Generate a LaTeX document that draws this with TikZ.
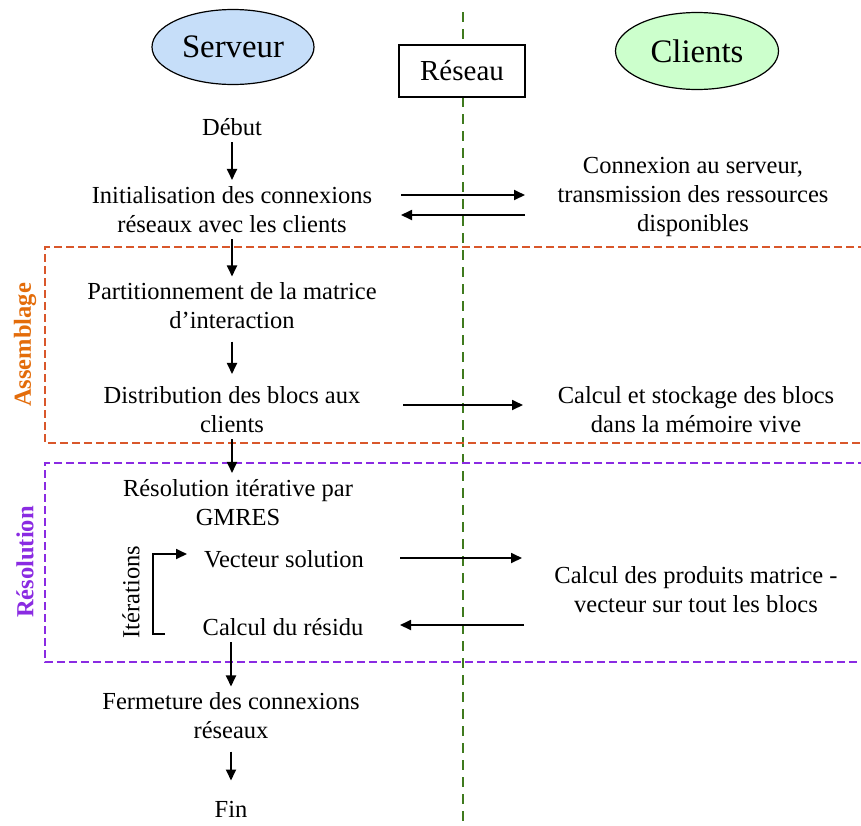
\documentclass[tikz,border=0pt]{standalone}
\usepackage{fontspec}
\setmainfont{Liberation Serif}
\usetikzlibrary{arrows.meta,shapes.geometric}
\definecolor{servfill}{HTML}{C6DEF9}
\definecolor{clifill}{HTML}{CCFFCC}
\definecolor{netgreen}{HTML}{3F7A1E}
\definecolor{asmorange}{HTML}{E36C0A}
\definecolor{asmline}{HTML}{D9572B}
\definecolor{respurple}{HTML}{8A2BE2}
\begin{document}
\begin{tikzpicture}[x=0.5pt,y=-0.5pt,
    every node/.style={font=\fontsize{12.25}{14.5}\selectfont, align=center, inner sep=3pt},
    actor/.style={ellipse, draw, line width=0.6pt, font=\fontsize{16.4}{19}\selectfont},
    flow/.style={line width=0.9pt, -{Triangle[length=5.5pt,width=5pt]}},
    phase/.style={line width=0.6pt, dash pattern=on 4pt off 2pt}]
    \useasboundingbox (0,0) rectangle (861,825);
    % network line
    \coordinate (nettop) at (463,12);
    \coordinate (netbot) at (463,830);
    \draw[netgreen, line width=0.7pt, dash pattern=on 5pt off 3.5pt] (nettop) -- (netbot);
    % headers
    \node[actor, fill=servfill, minimum width=81pt, minimum height=37.5pt] (serveur) at (233,47) {Serveur};
    \node[actor, fill=clifill, minimum width=81.5pt, minimum height=38.5pt] (clients) at (697,51) {Clients};
    \node[draw, fill=white, line width=0.6pt, minimum width=63pt, minimum height=26pt,
        font=\fontsize{14.5}{17}\selectfont] (reseau) at (462,71) {Réseau};
    % phases
    \draw[phase, asmline] (866,247) -- (45,247) -- (45,443) -- (866,443);
    \node[rotate=90, text=asmorange, font=\fontsize{12.25}{14.5}\selectfont\bfseries] (asm) at (25,345) {Assemblage};
    \draw[phase, respurple] (866,463) -- (45,463) -- (45,662) -- (866,662);
    \node[rotate=90, text=respurple, font=\fontsize{12.25}{14.5}\selectfont\bfseries] (res) at (25,562) {Résolution};
    % server side
    \node (debut) at (232,127) {Début};
    \node (init) at (232,209.5) {Initialisation des connexions\\réseaux avec les clients};
    \node (partit) at (232,306) {Partitionnement de la matrice\\d’interaction};
    \node (distrib) at (232,409.5) {Distribution des blocs aux\\clients};
    \node (gmres) at (238,502.5) {Résolution itérative par\\GMRES};
    \node (vecteur) at (284,559) {Vecteur solution};
    \node (residu) at (283,627) {Calcul du résidu};
    \node (ferme) at (231,716) {Fermeture des connexions\\réseaux};
    \node (fin) at (231,809) {Fin};
    % client side
    \node (connex) at (693,197) {Connexion au serveur,\\transmission des ressources\\disponibles};
    \node (stock) at (696,409.5) {Calcul et stockage des blocs\\dans la mémoire vive};
    \node (produit) at (696,589.5) {Calcul des produits matrice -\\vecteur sur tout les blocs};
    % vertical flow
    \draw[flow] (debut.south -| init.north) -- (init);
    \draw[flow] (init) -- (partit);
    \draw[flow, shorten <=3pt, shorten >=3pt] (partit) -- (distrib);
    \draw[flow] (distrib) -- (distrib |- gmres.north);
    \draw[flow] (ferme.north |- residu.south) -- (ferme);
    \draw[flow, shorten <=3pt, shorten >=7pt] (ferme) -- (fin);
    % exchanges
    \coordinate (i1) at (401,195); \coordinate (c1) at (525,195);
    \coordinate (i2) at (401,215); \coordinate (c2) at (525,215);
    \coordinate (d1) at (403,405); \coordinate (s1) at (523,405);
    \coordinate (v1) at (400,558); \coordinate (p1) at (522,558);
    \coordinate (r1) at (400,625); \coordinate (p2) at (524,625);
    \draw[flow] (i1) -- (c1);
    \draw[flow] (c2) -- (i2);
    \draw[flow] (d1) -- (s1);
    \draw[flow] (v1) -- (p1);
    \draw[flow] (p2) -- (r1);
    % iterations
    \coordinate (itlow) at (165,634);
    \coordinate (ittop) at (187,554);
    \draw[flow] (itlow) -- (153,634) -- (153,554) -- (ittop);
    \node[rotate=90] (iter) at (131,592) {Itérations};
\end{tikzpicture}
\end{document}
